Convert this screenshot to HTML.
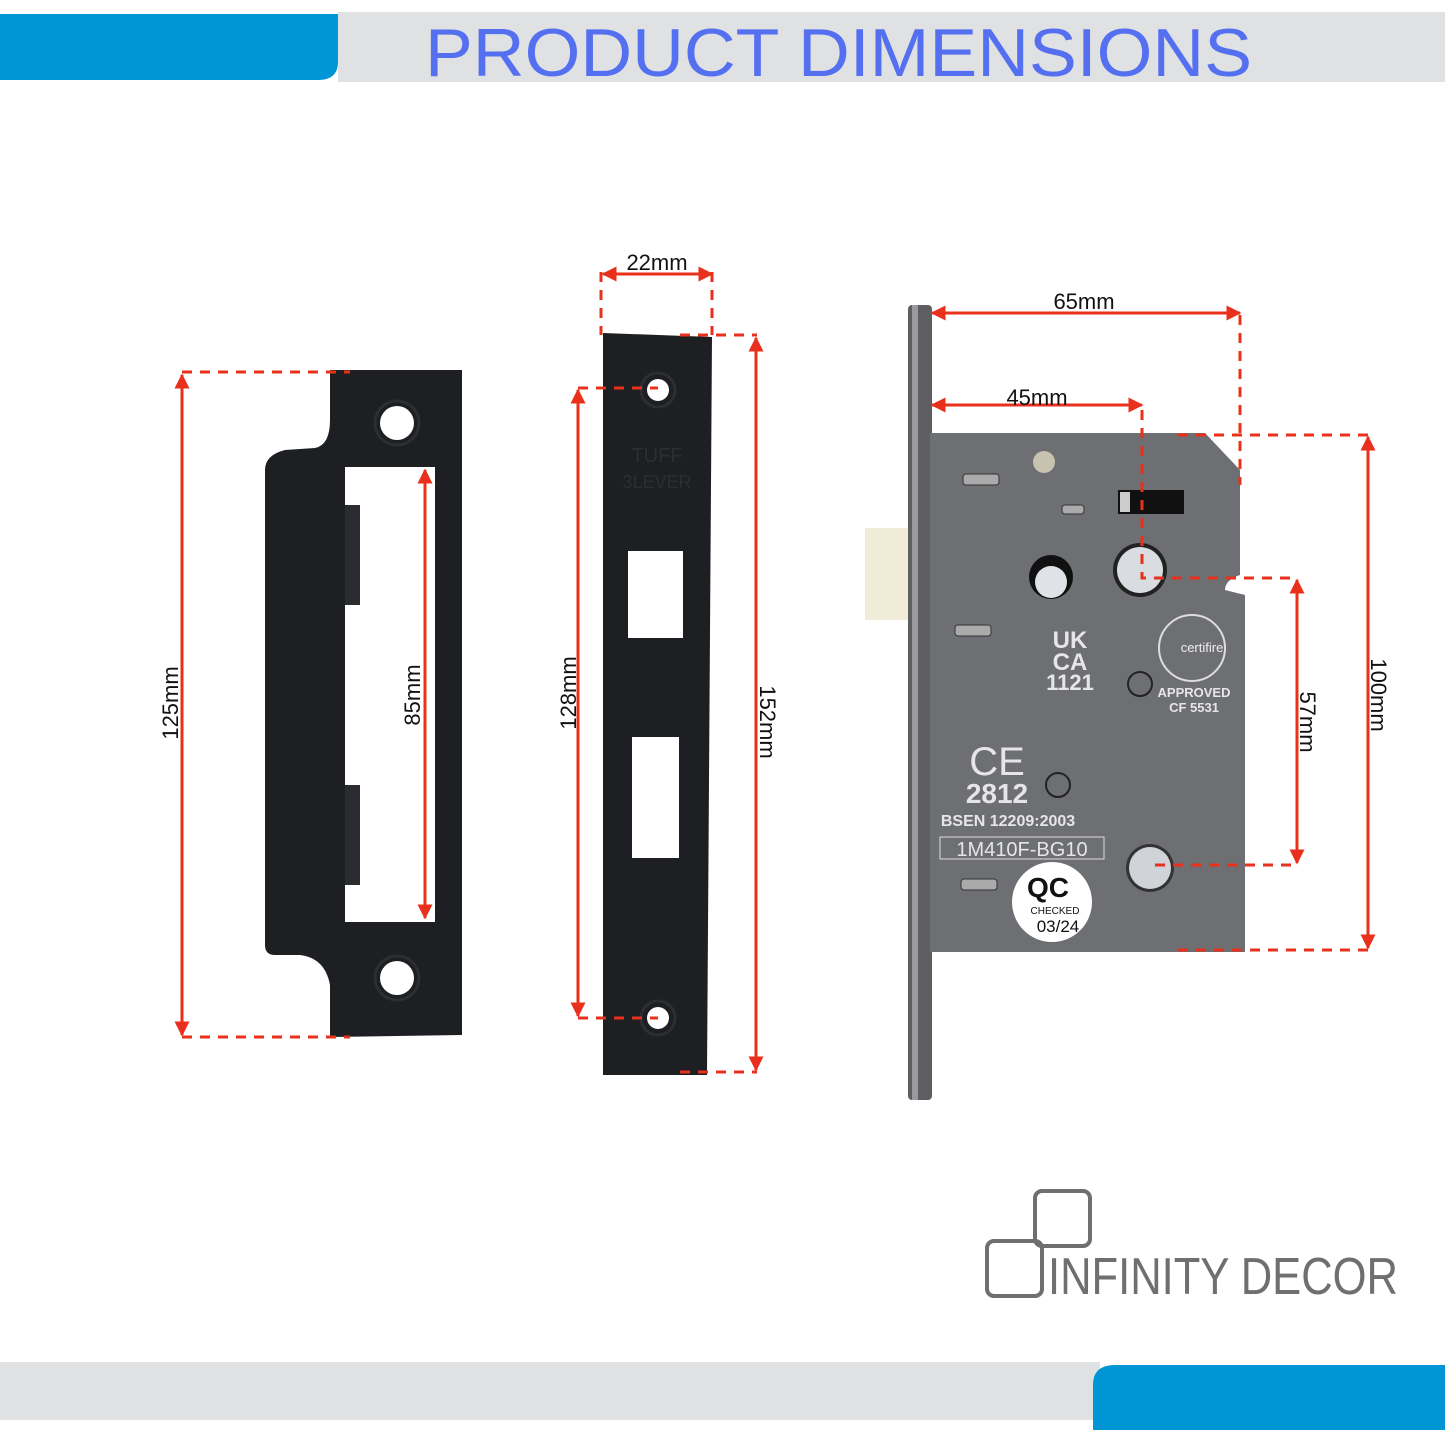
<!DOCTYPE html>
<html><head><meta charset="utf-8"><style>
html,body{margin:0;padding:0;background:#fff;width:1445px;height:1445px;overflow:hidden}
svg{display:block}
text{font-family:"Liberation Sans",sans-serif}
</style></head><body>
<svg width="1445" height="1445" viewBox="0 0 1445 1445" xmlns="http://www.w3.org/2000/svg">
<defs>
<marker id="ar" viewBox="0 0 10 10" refX="9" refY="5" markerWidth="5" markerHeight="5" orient="auto-start-reverse"><path d="M0,0 L10,5 L0,10 z" fill="#e8301c"/></marker>
</defs>
<!-- header -->
<rect x="338" y="12" width="1107" height="70" fill="#e0e1e3"/>
<path d="M0,14 H338 V62 Q338,80 318,80 H0 Z" fill="#0096d6"/>
<text x="425" y="76" font-size="68" fill="#5470f0" textLength="827" lengthAdjust="spacingAndGlyphs">PRODUCT  DIMENSIONS</text>
<!-- footer -->
<rect x="0" y="1362" width="1100" height="58" fill="#e0e1e3"/>
<path d="M1115,1365 H1445 V1430 H1093 V1385 Q1093,1365 1115,1365 Z" fill="#0096d6"/>

<!-- strike plate 1 -->
<path d="M330,370 H462 V1035 L330,1037 V985 Q325,958 300,955 L275,955 Q265,955 265,945 V470 Q265,455 285,450 L315,448 Q330,445 330,420 Z" fill="#1d1f22"/>
<rect x="345" y="467" width="90" height="455" fill="#fff"/>
<path d="M345,505 h15 v100 h-15 z M345,785 h15 v100 h-15 z" fill="#2a2c30"/>
<circle cx="397" cy="423" r="17" fill="#fff"/><circle cx="397" cy="423" r="22" fill="none" stroke="#2c2e32" stroke-width="3"/>
<circle cx="397" cy="978" r="17" fill="#fff"/><circle cx="397" cy="978" r="22" fill="none" stroke="#2c2e32" stroke-width="3"/>

<!-- strike plate 2 -->
<path d="M603,333 L712,337 L707,1075 L603,1075 Z" fill="#1d1f22"/>
<rect x="628" y="551" width="55" height="87" fill="#fff"/>
<rect x="632" y="737" width="47" height="121" fill="#fff"/>
<circle cx="658" cy="390" r="11" fill="#fff"/><circle cx="658" cy="390" r="17" fill="none" stroke="#2c2e32" stroke-width="3"/>
<circle cx="658" cy="1018" r="11" fill="#fff"/><circle cx="658" cy="1018" r="17" fill="none" stroke="#2c2e32" stroke-width="3"/>
<text x="657" y="462" font-size="20" fill="#2c2e33" text-anchor="middle" font-family="Liberation Serif">TUFF</text>
<text x="657" y="488" font-size="18" fill="#2c2e33" text-anchor="middle" font-family="Liberation Serif">3LEVER</text>

<!-- lock -->
<rect x="865" y="528" width="47" height="92" fill="#f1ecd8"/>
<rect x="908" y="305" width="24" height="795" rx="4" fill="#5e5f62"/>
<rect x="912" y="305" width="6" height="795" fill="#9a9a9c"/>
<path d="M930,433 H1205 L1240,470 V575 Q1225,580 1225,590 L1245,595 V952 H930 Z" fill="#6e6f73"/>
<rect x="963" y="474" width="36" height="11" rx="3" fill="#aaa" stroke="#333"/>
<rect x="955" y="625" width="36" height="11" rx="3" fill="#aaa" stroke="#333"/>
<rect x="961" y="879" width="36" height="11" rx="3" fill="#aaa" stroke="#333"/>
<rect x="1062" y="505" width="22" height="9" rx="3" fill="#aaa" stroke="#333"/>
<circle cx="1044" cy="462" r="11" fill="#c8c3b0"/>
<rect x="1118" y="490" width="66" height="24" fill="#111"/><rect x="1120" y="492" width="10" height="20" fill="#ccc"/>
<circle cx="1051" cy="577" r="22" fill="#111"/><circle cx="1051" cy="582" r="16" fill="#dfe3e8"/>
<circle cx="1140" cy="570" r="27" fill="#222"/><circle cx="1140" cy="570" r="23" fill="#d9dce0"/>
<circle cx="1150" cy="868" r="24" fill="#333"/><circle cx="1150" cy="868" r="21" fill="#d0d3d8"/>
<circle cx="1140" cy="684" r="12" fill="none" stroke="#222" stroke-width="2"/>
<circle cx="1058" cy="785" r="12" fill="none" stroke="#222" stroke-width="2"/>
<g fill="#e6e6e6" font-weight="bold">
<text x="1070" y="648" font-size="24" text-anchor="middle">UK</text>
<text x="1070" y="670" font-size="24" text-anchor="middle">CA</text>
<text x="1070" y="690" font-size="22" text-anchor="middle">1121</text>
<text x="997" y="775" font-size="40" text-anchor="middle" font-weight="normal">CE</text>
<text x="997" y="803" font-size="28" text-anchor="middle">2812</text>
<text x="1008" y="826" font-size="16" text-anchor="middle">BSEN 12209:2003</text>
<text x="1022" y="856" font-size="20" text-anchor="middle" font-weight="normal">1M410F-BG10</text>
<text x="1194" y="697" font-size="13" text-anchor="middle">APPROVED</text>
<text x="1194" y="712" font-size="13" text-anchor="middle">CF  5531</text>
</g>
<rect x="940" y="837" width="164" height="22" fill="none" stroke="#ddd"/>
<circle cx="1192" cy="648" r="33" fill="none" stroke="#ddd" stroke-width="2"/>
<text x="1202" y="652" font-size="13" fill="#eee" text-anchor="middle" font-family="Liberation Serif">certifire</text>
<circle cx="1052" cy="902" r="40" fill="#fff"/>
<text x="1048" y="897" font-size="28" font-weight="bold" fill="#111" text-anchor="middle">QC</text>
<text x="1055" y="914" font-size="10" fill="#111" text-anchor="middle">CHECKED</text>
<text x="1058" y="932" font-size="17" fill="#111" text-anchor="middle">03/24</text>

<!-- dimension lines -->
<g stroke="#e8301c" stroke-width="3" fill="none">
<g stroke-dasharray="10,8">
<path d="M182,372 H350 M182,1037 H350"/>
<path d="M601,272 V335 M712,272 V335"/>
<path d="M680,335 H757 M680,1072 H757"/>
<path d="M578,388 H658 M578,1018 H658"/>
<path d="M1240,315 V485"/>
<path d="M1142,410 V578 H1297"/>
<path d="M1155,865 H1297"/>
<path d="M1178,435 H1370 M1178,950 H1370"/>
</g>
<path d="M182,375 V1035" marker-start="url(#ar)" marker-end="url(#ar)"/>
<path d="M425,470 V918" marker-start="url(#ar)" marker-end="url(#ar)"/>
<path d="M603,274 H712" marker-start="url(#ar)" marker-end="url(#ar)"/>
<path d="M756,338 V1070" marker-start="url(#ar)" marker-end="url(#ar)"/>
<path d="M578,390 V1016" marker-start="url(#ar)" marker-end="url(#ar)"/>
<path d="M932,313 H1240" marker-start="url(#ar)" marker-end="url(#ar)"/>
<path d="M932,405 H1142" marker-start="url(#ar)" marker-end="url(#ar)"/>
<path d="M1297,580 V863" marker-start="url(#ar)" marker-end="url(#ar)"/>
<path d="M1368,437 V948" marker-start="url(#ar)" marker-end="url(#ar)"/>
</g>
<g font-size="22" fill="#111">
<text x="657" y="270" text-anchor="middle">22mm</text>
<text x="1084" y="309" text-anchor="middle">65mm</text>
<text x="1037" y="405" text-anchor="middle">45mm</text>
<text transform="translate(178,703) rotate(-90)" text-anchor="middle">125mm</text>
<text transform="translate(420,695) rotate(-90)" text-anchor="middle">85mm</text>
<text transform="translate(576,693) rotate(-90)" text-anchor="middle">128mm</text>
<text transform="translate(760,722) rotate(90)" text-anchor="middle">152mm</text>
<text transform="translate(1300,722) rotate(90)" text-anchor="middle">57mm</text>
<text transform="translate(1371,695) rotate(90)" text-anchor="middle">100mm</text>
</g>

<!-- logo -->
<g fill="none" stroke="#6f6f6f" stroke-width="4">
<rect x="1035" y="1191" width="55" height="55" rx="7"/>
<rect x="987" y="1241" width="55" height="55" rx="7"/>
</g>
<text x="1048" y="1294" font-size="52" fill="#6f6f6f" textLength="350" lengthAdjust="spacingAndGlyphs" font-weight="normal">INFINITY DECOR</text>
</svg>
</body></html>
